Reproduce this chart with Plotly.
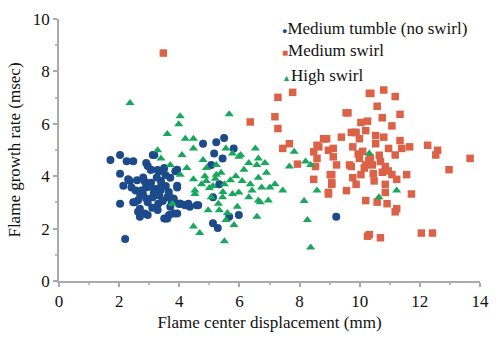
import plotly.graph_objects as go

# Medium tumble (no swirl)
tumble_x = [1.71, 2.03, 2.25, 2.47, 2.03, 2.14, 2.36, 2.03, 2.47, 2.20, 2.63, 2.95, 2.89, 3.17, 2.95, 3.28,
            3.50, 3.54, 3.38, 3.60, 3.50, 3.28, 2.85, 2.63, 2.79, 3.70, 3.93, 4.03, 4.19, 4.35, 3.82, 3.06,
            3.33, 3.87, 2.30, 2.41, 2.74, 3.06, 3.22, 3.39, 3.55, 3.33, 3.12, 2.52, 2.69, 2.69, 2.95, 3.82,
            3.98, 4.20, 4.58, 3.66, 3.55, 3.93, 3.70, 3.12, 2.90, 3.05, 3.93, 3.93, 3.70, 4.03, 4.30, 4.63,
            3.60, 4.79, 5.23, 5.49, 5.16, 5.06, 5.33, 5.12, 5.66, 5.98, 5.28, 5.12, 5.81, 5.44, 9.22,
            2.60, 2.80, 3.00, 3.15, 3.45, 2.70, 2.90, 3.10, 3.40, 3.65, 2.55, 3.25, 3.75, 2.85, 3.30]
tumble_y = [4.62, 4.81, 4.57, 4.57, 4.09, 3.64, 3.82, 2.95, 3.01, 1.60, 2.64, 3.01, 3.57, 4.81, 4.39, 4.24,
            4.31, 4.05, 3.46, 3.20, 2.39, 2.71, 2.58, 3.08, 3.32, 3.94, 3.64, 2.95, 2.90, 2.83, 2.58, 4.25,
            4.19, 4.19, 3.88, 3.57, 3.45, 3.75, 3.51, 3.82, 3.63, 3.26, 3.20, 3.01, 2.76, 2.45, 2.52, 3.14,
            2.95, 2.89, 2.89, 2.52, 2.39, 2.58, 2.83, 4.81, 4.50, 4.25, 4.25, 3.57, 3.20, 2.95, 2.95, 2.89,
            2.39, 5.24, 5.30, 5.46, 4.87, 4.43, 3.69, 3.20, 2.45, 2.52, 2.02, 2.20, 5.06, 4.68, 2.45,
            3.85, 3.95, 3.60, 3.35, 3.05, 3.25, 3.15, 2.80, 3.65, 3.40, 3.45, 3.95, 3.05, 3.80, 2.95]

# Medium swirl
mswirl_x = [3.47, 7.28, 7.77, 6.36, 7.18, 7.28, 9.61, 10.32, 10.04, 7.66, 7.44, 8.47, 8.80, 8.64, 8.96,
            9.12, 9.39, 9.83, 9.99, 7.93, 8.58, 8.53, 9.23, 9.66, 9.99, 10.20, 9.02, 8.47, 9.07, 8.96, 9.56,
            10.20, 10.26, 9.77, 10.80, 11.18, 10.58, 10.26, 10.75, 11.34, 11.07, 9.88, 10.20, 10.53, 10.80,
            11.34, 8.90, 9.12, 9.77, 10.53, 10.96, 11.40, 11.66, 12.26, 12.59, 12.53, 13.67, 12.97, 9.72,
            10.15, 10.42, 10.69, 10.85, 11.18, 11.07, 9.07, 10.04, 10.48, 10.85, 11.23, 11.56, 9.07, 8.96,
            10.85, 11.72, 10.58, 10.91, 11.23, 11.18, 10.32, 10.69, 12.05, 12.42, 9.88, 8.85, 8.58, 9.55,
            9.72, 10.37, 10.35, 10.65, 10.95, 10.10, 10.45, 10.75, 9.95, 10.30]
mswirl_y = [8.70, 7.01, 7.20, 6.07, 6.27, 5.82, 6.42, 7.16, 6.05, 5.24, 5.06, 4.93, 5.43, 5.12, 4.99,
            4.74, 5.49, 5.67, 5.43, 4.46, 4.68, 4.37, 4.43, 4.43, 4.68, 4.43, 4.06, 3.88, 3.75, 3.38, 3.45,
            3.07, 1.71, 3.94, 7.29, 7.04, 6.67, 6.10, 6.23, 6.36, 5.92, 5.67, 5.74, 5.55, 5.49,
            5.36, 5.43, 5.06, 5.12, 5.24, 5.06, 5.06, 5.12, 5.18, 4.99, 4.81, 4.68, 4.25, 4.37,
            4.31, 4.43, 4.56, 4.37, 4.81, 4.06, 4.06, 4.06, 3.82, 3.69, 3.88, 4.06, 3.69, 3.32,
            3.38, 3.32, 3.01, 2.95, 2.76, 2.64, 1.77, 1.65, 1.83, 1.83, 3.69, 5.43, 5.18, 6.42,
            5.67, 7.16, 4.70, 4.80, 4.20, 4.95, 4.10, 4.15, 4.85, 4.60]

# High swirl
hswirl_x = [2.36, 4.03, 3.98, 3.60, 4.20, 4.47, 4.47, 4.09, 3.28, 3.39, 4.25, 4.47, 3.77, 4.52, 4.47,
            5.66, 4.79, 4.90, 5.23, 5.39, 5.55, 5.77, 5.98, 6.53, 6.31, 6.58, 6.85, 6.90, 6.63, 6.36,
            6.74, 7.01, 6.09, 5.88, 5.50, 5.12, 4.74, 4.52, 5.06, 5.44, 5.77, 5.98, 6.31, 6.63, 6.96,
            4.96, 5.33, 5.93, 5.55, 5.82, 4.68, 5.50, 6.58, 3.70, 4.03, 5.23, 4.90, 6.04, 6.63, 7.18,
            7.44, 6.42, 6.69, 8.15, 8.26, 8.58, 8.37, 7.82, 7.66, 8.20, 8.37, 10.32, 10.64, 11.23,
            5.20, 5.45, 5.70, 5.30, 5.60, 4.85, 6.15, 5.00]
hswirl_y = [6.79, 6.29, 5.98, 5.61, 5.43, 5.43, 5.06, 4.81, 4.99, 4.68, 4.31, 3.88, 2.95, 3.32, 2.08,
            6.36, 4.62, 4.31, 4.43, 4.13, 5.06, 4.87, 4.74, 5.06, 4.50, 4.43, 4.50, 4.13, 3.94, 3.69,
            3.57, 3.57, 3.82, 4.00, 3.69, 3.63, 3.69, 3.45, 3.20, 3.20, 3.32, 3.38, 3.20, 3.07, 3.07,
            2.70, 2.70, 2.83, 2.33, 2.14, 1.83, 1.52, 2.45, 4.43, 4.06, 4.06, 3.82, 4.81, 4.68, 3.69,
            3.45, 3.45, 3.01, 3.05, 2.33, 3.45, 1.28, 4.93, 4.37, 4.56, 4.43, 4.87, 3.20, 3.45,
            3.90, 3.40, 3.85, 2.95, 2.60, 4.00, 4.25, 3.55]

series_names = ["Medium tumble (no swirl)", "Medium swirl", "High swirl"]
x_ticks = [0, 2, 4, 6, 8, 10, 12, 14]
y_ticks = [0, 2, 4, 6, 8, 10]

BLUE = "#1c4a8a"
RED = "#dc6247"
GREEN = "#17a85c"
FONT = "Liberation Serif, Times New Roman, serif"

fig = go.Figure()
fig.add_trace(go.Scatter(x=tumble_x, y=tumble_y, mode="markers", name=series_names[0],
                         marker=dict(symbol="circle", size=8, color=BLUE)))
fig.add_trace(go.Scatter(x=mswirl_x, y=mswirl_y, mode="markers", name=series_names[1],
                         marker=dict(symbol="square", size=7.5, color=RED)))
fig.add_trace(go.Scatter(x=hswirl_x, y=hswirl_y, mode="markers", name=series_names[2],
                         marker=dict(symbol="triangle-up", size=8, color=GREEN)))

legend_syms = [("●", BLUE, 9), ("■", RED, 10), ("▲", GREEN, 9)]
legend_y = [27, 49, 75]
for (sym, col, sz), name, py in zip(legend_syms, series_names, legend_y):
    fig.add_annotation(
        x=(285 - 59) / 430, y=(286 - py) / 269, xref="paper", yref="paper",
        xanchor="left", yanchor="middle", showarrow=False,
        text=f"<span style='color:{col};font-size:{sz}px'>{sym}</span>{name}",
        font=dict(family=FONT, size=17, color="#111"))

axis_common = dict(showline=True, linecolor="#aaaaaa", linewidth=1.5, showgrid=False, zeroline=False,
                   ticks="outside", ticklen=4, tickcolor="#aaaaaa", tickwidth=1.5,
                   tickfont=dict(family=FONT, size=17, color="#111"),
                   minor=dict(ticks="outside", ticklen=2, tickcolor="#bbbbbb", dtick=1))

fig.update_xaxes(range=[0, 14], tickvals=x_ticks,
                 title=dict(text="Flame center displacement (mm)", font=dict(family=FONT, size=17, color="#111"),
                            standoff=6),
                 **axis_common)
fig.update_yaxes(range=[0, 10], tickvals=y_ticks,
                 title=dict(text="Flame growth rate (msec)", font=dict(family=FONT, size=17, color="#111"),
                            standoff=8),
                 **axis_common)

fig.update_layout(width=499, height=339, margin=dict(l=59, r=10, t=17, b=53),
                  plot_bgcolor="white", paper_bgcolor="white", showlegend=False,
                  font=dict(family=FONT))

fig.write_html("out.html")
